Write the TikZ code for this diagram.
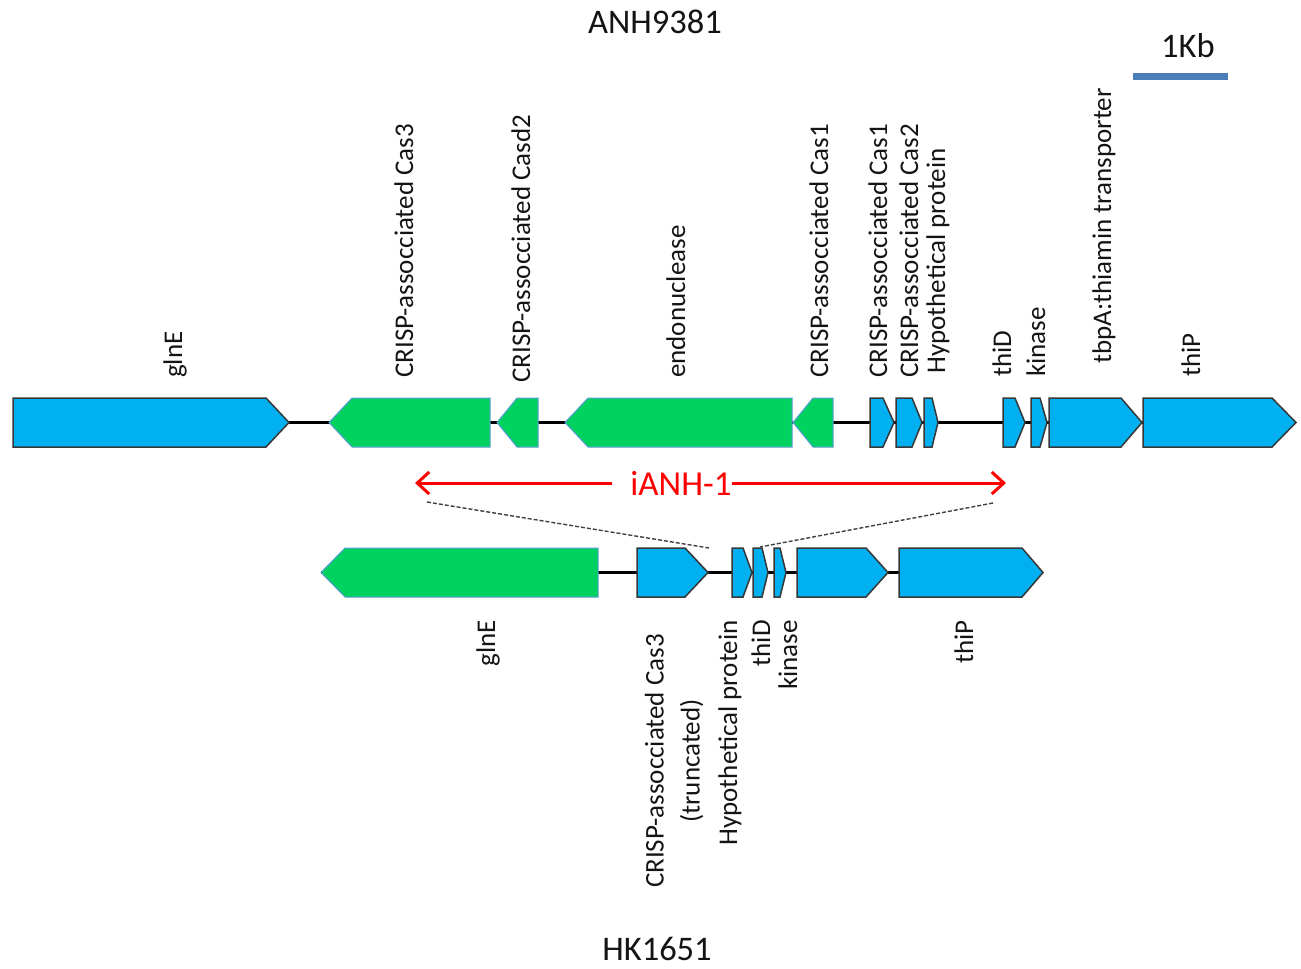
\documentclass[tikz,border=0pt]{standalone}
\usepackage{fontspec}
\setmainfont{Carlito}
\usetikzlibrary{arrows.meta}
\definecolor{geneblue}{RGB}{0,176,240}
\definecolor{genegreen}{RGB}{0,210,95}
\definecolor{edgegray}{RGB}{55,55,55}
\definecolor{edgegreen}{RGB}{91,155,213}
\definecolor{barblue}{RGB}{74,126,187}
\definecolor{txt}{RGB}{20,20,20}
\newcommand\geneR[5]{\draw[#5] (#1,#4-24.5) -- (#2,#4-24.5) -- (#3,#4) -- (#2,#4+24.5) -- (#1,#4+24.5) -- cycle;}
\newcommand\geneL[5]{\draw[#5] (#1,#4) -- (#2,#4-24.5) -- (#3,#4-24.5) -- (#3,#4+24.5) -- (#2,#4+24.5) -- cycle;}
\begin{document}
\begin{tikzpicture}[x=1pt,y=-1pt,
  blugene/.style={fill=geneblue, draw=edgegray, line width=1.5pt},
  grngene/.style={fill=genegreen, draw=edgegreen, line width=1pt},
  backbone/.style={line width=3.6pt, black},
  lab/.style={font=\fontsize{27}{36}\selectfont, text=txt, inner sep=0pt, rotate=90},
  title/.style={font=\fontsize{34.5}{40}\selectfont, text=txt, inner sep=0pt},
  redarrow/.style={red, line width=3pt, -{Straight Barb[length=12pt,width=22pt,line width=3pt]}},
  dashline/.style={dashed, dash pattern=on 4pt off 2pt, line width=1.4pt, black!75}]
\useasboundingbox (0,0) rectangle (1301,969);

% titles
\node[title] (t1) at (655,22) {ANH9381};
\node[title] (t2) at (657,949) {HK1651};
\node[title] (kb) at (1188,46) {1Kb};
\coordinate (bar1) at (1133,76);
\coordinate (bar2) at (1228,76);
\draw[barblue, line width=7pt] (bar1) -- (bar2);

% top backbone
\coordinate (tb1) at (13,422.5);
\coordinate (tb2) at (1296,422.5);
\draw[backbone] (tb1) -- (tb2);
\geneR{13}{266}{289}{422.5}{blugene}
\geneL{329}{352}{490}{422.5}{grngene}
\geneL{497}{517}{538}{422.5}{grngene}
\geneL{565}{588}{792}{422.5}{grngene}
\geneL{793}{813}{833}{422.5}{grngene}
\geneR{870}{883}{894}{422.5}{blugene}
\geneR{896}{912}{922}{422.5}{blugene}
\geneR{924}{932}{938}{422.5}{blugene}
\geneR{1003}{1015}{1025}{422.5}{blugene}
\geneR{1031}{1040}{1047}{422.5}{blugene}
\geneR{1049}{1121}{1142}{422.5}{blugene}
\geneR{1143}{1272}{1296}{422.5}{blugene}

% top labels
\node[lab, anchor=base west] (l1) at (182,378) {glnE};
\node[lab, anchor=base west] (l2) at (413,378) {CRISP-assocciated Cas3};
\node[lab, anchor=base west] (l3) at (530,383) {CRISP-assocciated Casd2};
\node[lab, anchor=base west] (l4) at (685,378) {endonuclease};
\node[lab, anchor=base west] (l5) at (828,378) {CRISP-assocciated Cas1};
\node[lab, anchor=base west] (l6) at (887,378) {CRISP-assocciated Cas1};
\node[lab, anchor=base west] (l7) at (918,378) {CRISP-assocciated Cas2};
\node[lab, anchor=base west] (l8) at (945,374) {Hypothetical protein};
\node[lab, anchor=base west] (l9) at (1011,377) {thiD};
\node[lab, anchor=base west] (l10) at (1045,377) {kinase};
\node[lab, anchor=base west] (l11) at (1111,364) {tbpA:thiamin transporter};
\node[lab, anchor=base west] (l12) at (1200,377) {thiP};

% island arrow
\node[font=\fontsize{35}{40}\selectfont, text=red, inner sep=0pt] (ianh) at (681,483) {iANH-1};
\coordinate (iL) at (415,483);
\coordinate (iR) at (1006,483);
\draw[redarrow] ([xshift=-18pt]ianh.west) -- (iL);
\draw[redarrow] (ianh.east) -- (iR);

% dashed projection lines
\coordinate (d1a) at (427,502);
\coordinate (d1b) at (709,548);
\coordinate (d2a) at (993,503);
\coordinate (d2b) at (760,547);
\draw[dashline] (d1a) -- (d1b);
\draw[dashline] (d2a) -- (d2b);

% bottom backbone
\coordinate (bb1) at (321,572.5);
\coordinate (bb2) at (1043,572.5);
\draw[backbone] (bb1) -- (bb2);
\geneL{321}{345}{598}{572.5}{grngene}
\geneR{637}{685}{708}{572.5}{blugene}
\geneR{732}{743}{752}{572.5}{blugene}
\geneR{753}{762}{768}{572.5}{blugene}
\geneR{774}{780}{786}{572.5}{blugene}
\geneR{797}{866}{888}{572.5}{blugene}
\geneR{899}{1022}{1043}{572.5}{blugene}

% bottom labels
\node[lab, anchor=base east] (b1) at (495,620) {glnE};
\node[lab, align=center, anchor=center] (b2) at (674,761) {CRISP-assocciated Cas3\\(truncated)};
\node[lab, anchor=base east] (b3) at (737,620) {Hypothetical protein};
\node[lab, anchor=base east] (b4) at (770,620) {thiD};
\node[lab, anchor=base east] (b5) at (797,620) {kinase};
\node[lab, anchor=base east] (b6) at (973,620) {thiP};
\end{tikzpicture}
\end{document}
